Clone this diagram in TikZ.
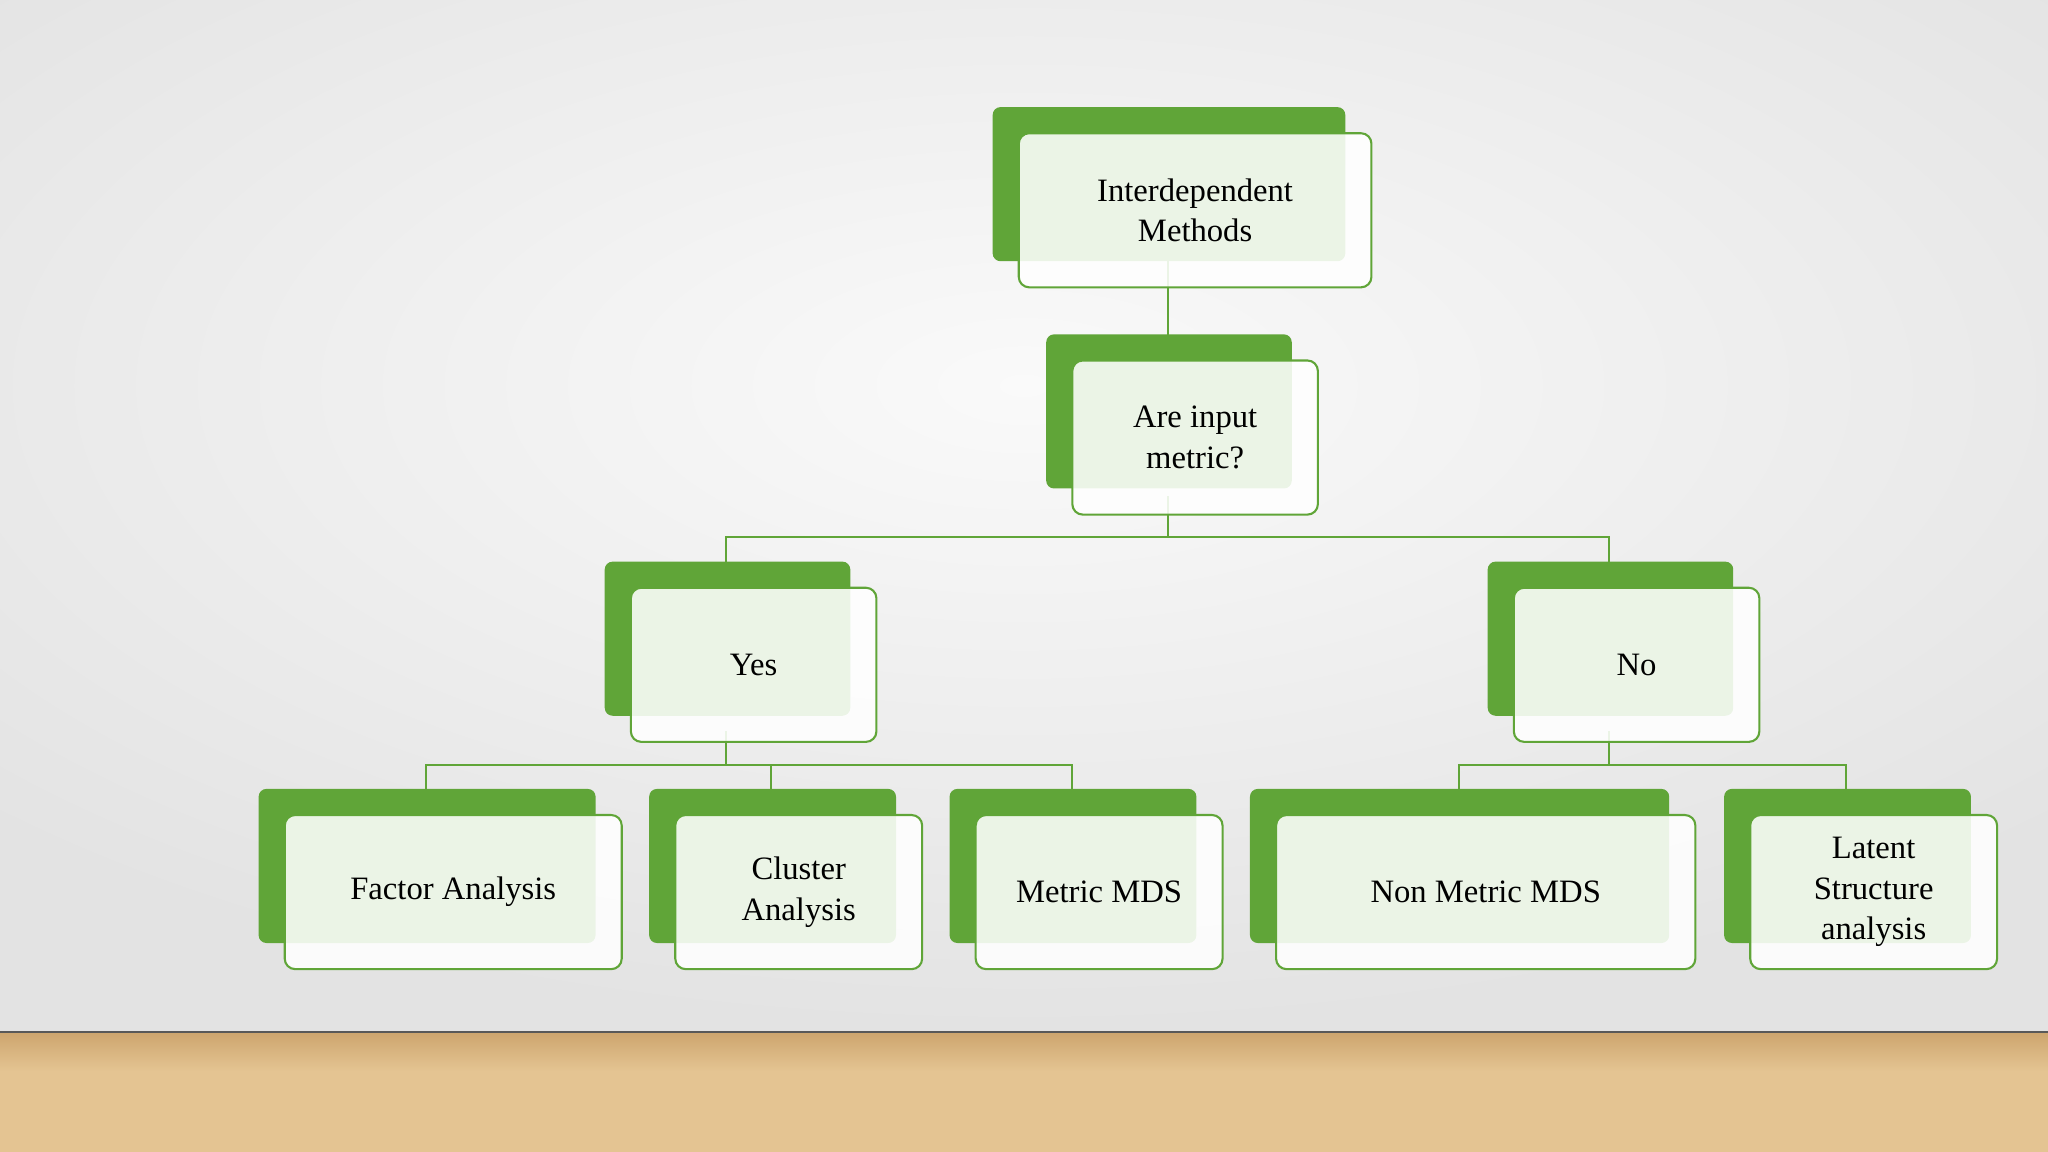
\documentclass[tikz,border=0pt]{standalone}
\usepackage{fontspec}
\setmainfont{Liberation Serif}
\definecolor{grn}{RGB}{96,165,56}
\definecolor{wood}{RGB}{228,196,146}
\definecolor{woodd}{RGB}{205,165,110}
\tikzset{
 back/.style={fill=grn,rounded corners=6pt},
 front/.style={draw=grn,line width=1.6pt,fill=white,fill opacity=0.88,text opacity=1,rounded corners=8pt,align=center,font=\fontsize{25}{28}\selectfont},
 conn/.style={draw=grn,line width=1.6pt}
}
\newcommand{\tbox}[6]{%
 \fill[back] (#2,#3) rectangle ++(#4-#2-20,#5-#3-20);
 \path[front] (#2+20,#3+20) rectangle (#4,#5);
 \node[font=\fontsize{25}{31}\selectfont,align=center] (#1) at ({(#2+#4)/2+10},{(#3+#5)/2+10}) {#6};
 \coordinate (#1t) at ({(#2+#4-20)/2},#3);
 \coordinate (#1b) at ({(#2+#4-20)/2},#5);
}
\begin{document}
\begin{tikzpicture}[x=1pt,y=-1pt]
\useasboundingbox (0,0) rectangle (1568,882);
\shade[inner color=gray!4,outer color=gray!22] (-300,-200) rectangle (1868,790);
\fill[wood] (0,790) rectangle (1568,882);
\shade[top color=woodd,bottom color=wood] (0,790) rectangle (1568,820);
\draw[gray!70!black,line width=1.2pt] (0,790) -- (1568,790);
% connectors
\coordinate (h1) at (894,411);
\draw[conn] (894,200) -- (894,275);
\draw[conn] (894,380) -- (894,411);
\draw[conn] (556,430) -- (556,411) -- (1232,411) -- (1232,430);
\draw[conn] (556,560) -- (556,586);
\draw[conn] (326,604) -- (326,586) -- (821,586) -- (821,604);
\draw[conn] (590,586) -- (590,604);
\draw[conn] (1232,560) -- (1232,586);
\draw[conn] (1117,604) -- (1117,586) -- (1413,586) -- (1413,604);
% boxes
\tbox{top}{760}{82}{1050}{220}{Interdependent\\Methods}
\tbox{q}{801}{256}{1009}{394}{Are input\\metric?}
\tbox{yes}{463}{430}{671}{568}{Yes}
\tbox{no}{1139}{430}{1347}{568}{No}
\tbox{fa}{198}{604}{476}{742}{Factor Analysis}
\tbox{ca}{497}{604}{706}{742}{Cluster\\Analysis}
\tbox{mm}{727}{604}{936}{742}{Metric MDS}
\tbox{nm}{957}{604}{1298}{742}{Non Metric MDS}
\tbox{ls}{1320}{604}{1529}{742}{Latent\\Structure\\analysis}
\end{tikzpicture}
\end{document}
